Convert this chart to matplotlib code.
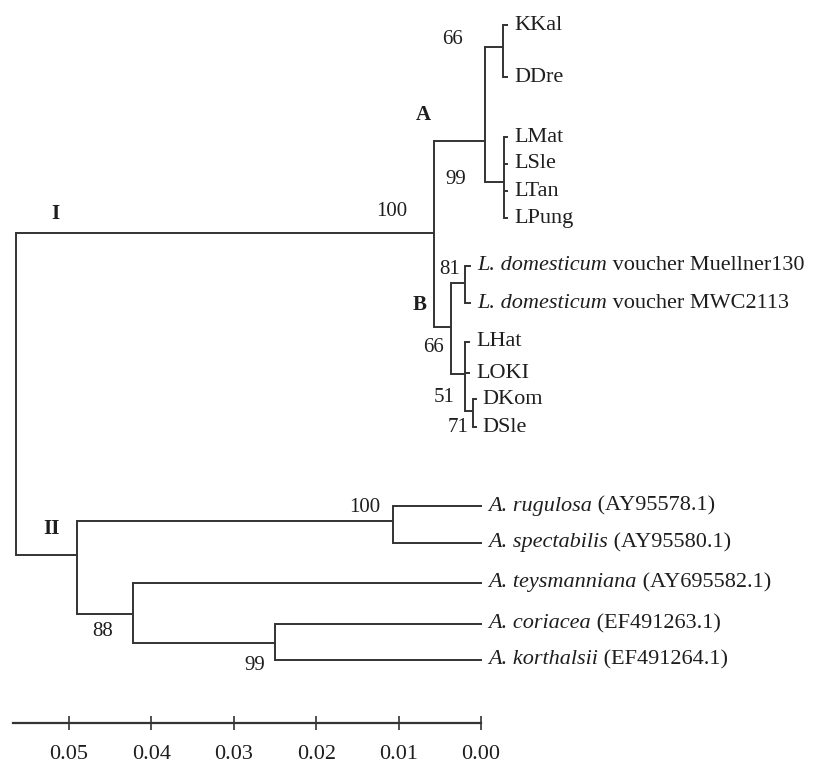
import matplotlib
matplotlib.use('Agg')
import matplotlib.pyplot as plt

# ---------------- data ----------------
leaf_ids = ['KKal', 'DDre', 'LMat', 'LSle', 'LTan', 'LPung', 'Lm130', 'Lmwc',
            'LHat', 'LOKI', 'DKom', 'DSle', 'Arug', 'Aspe', 'Atey', 'Acor', 'Akor']
leaf_italic = ['', '', '', '', '', '', 'L. domesticum', 'L. domesticum',
               '', '', '', '', 'A. rugulosa', 'A. spectabilis', 'A. teysmanniana',
               'A. coriacea', 'A. korthalsii']
leaf_plain = ['KKal', 'DDre', 'LMat', 'LSle', 'LTan', 'LPung', ' voucher Muellner130',
              ' voucher MWC2113', 'LHat', 'LOKI', 'DKom', 'DSle', ' (AY95578.1)',
              ' (AY95580.1)', ' (AY695582.1)', ' (EF491263.1)', ' (EF491264.1)']
# cumulative branch length from the root
leaf_depth = [0.0597, 0.0597, 0.0597, 0.0597, 0.0597, 0.0597, 0.0552, 0.0552,
              0.0551, 0.0551, 0.0559, 0.0559, 0.0566, 0.0566, 0.0566, 0.0566, 0.0566]

node_ids = ['root', 'I', 'A', 'A1', 'A2', 'B', 'B1', 'B2', 'B3', 'II', 'II1', 'II2', 'II3']
node_depth = [0.0, 0.0507, 0.0569, 0.0591, 0.0592, 0.0528, 0.0545, 0.0545, 0.0555,
              0.0074, 0.0458, 0.0142, 0.0314]
node_children = [['I', 'II'], ['A', 'B'], ['A1', 'A2'], ['KKal', 'DDre'],
                 ['LMat', 'LSle', 'LTan', 'LPung'], ['B1', 'B2'], ['Lm130', 'Lmwc'],
                 ['LHat', 'LOKI', 'B3'], ['DKom', 'DSle'], ['II1', 'II2'],
                 ['Arug', 'Aspe'], ['Atey', 'II3'], ['Acor', 'Akor']]
boot_nodes = ['A1', 'A2', 'I', 'B1', 'B', 'B2', 'B3', 'II1', 'II2', 'II3']
boot_values = [66, 99, 100, 81, 66, 51, 71, 100, 88, 99]

clade_names = ['I', 'II', 'A', 'B']

scale_ticks = [0.05, 0.04, 0.03, 0.02, 0.01, 0.00]
scale_labels = ['0.05', '0.04', '0.03', '0.02', '0.01', '0.00']

# ---------------- layout (pixel rows) ----------------
W, H = 814, 766
PX_PER_UNIT = 8240.0
ROOT_PX = 16
row = {'KKal': 25, 'DDre': 77, 'LMat': 137, 'LSle': 164, 'LTan': 191, 'LPung': 218,
       'Lm130': 266, 'Lmwc': 303, 'LHat': 342, 'LOKI': 373, 'DKom': 399, 'DSle': 427,
       'Arug': 506, 'Aspe': 543, 'Atey': 583, 'Acor': 624, 'Akor': 660,
       'root': 400, 'I': 233, 'A': 141, 'A1': 47, 'A2': 182, 'B': 327, 'B1': 283,
       'B2': 374, 'B3': 411, 'II': 555, 'II1': 521, 'II2': 614, 'II3': 643}
boot_offset = {'A1': (-50, -7), 'A2': (-48, -2), 'I': (-42, -21), 'B1': (-15, -14),
               'B': (-18, 21), 'B2': (-21, 23), 'B3': (-15, 16), 'II1': (-29, -14),
               'II2': (-30, 18), 'II3': (-20, 22)}
clade_pos = {'I': (55, 214), 'II': (52, 529), 'A': (423, 115), 'B': (420, 305)}

LINE = '#333333'
TEXT = '#1e1e1e'
SERIF = ['Liberation Serif', 'DejaVu Serif']
FS_LEAF = 16
FS_BOOT = 15
FS_SCALE = 16

depth = dict(zip(leaf_ids, leaf_depth))
depth.update(dict(zip(node_ids, node_depth)))
children = dict(zip(node_ids, node_children))


def px_to_depth(px):
    return (px - ROOT_PX) / PX_PER_UNIT


fig = plt.figure(figsize=(W / 100, H / 100), dpi=100)
fig.patch.set_facecolor('white')
ax = fig.add_axes([0, 0, 1, 1])
ax.set_xlim(px_to_depth(0), px_to_depth(W))
ax.set_ylim(H, 0)
ax.axis('off')

lw = 1.4
for nid in node_ids:
    d = depth[nid]
    ys = [row[c] for c in children[nid]]
    ax.plot([d, d], [min(ys), max(ys)], color=LINE, lw=lw, solid_capstyle='projecting')
    for c in children[nid]:
        ax.plot([d, depth[c]], [row[c], row[c]], color=LINE, lw=lw,
                solid_capstyle='butt')

# leaf labels
gap = 6 / PX_PER_UNIT
for lid, it, pl in zip(leaf_ids, leaf_italic, leaf_plain):
    x = depth[lid] + gap
    y = row[lid]
    if it:
        t1 = ax.text(x, y, it, fontsize=FS_LEAF, family=SERIF, style='italic',
                     color=TEXT, ha='left', va='center')
        ax.annotate(pl, xy=(1, 0), xycoords=t1, ha='left', va='bottom',
                    fontsize=FS_LEAF, family=SERIF, color=TEXT)
    else:
        ax.text(x, y, pl, fontsize=FS_LEAF, family=SERIF, color=TEXT,
                ha='left', va='center')

# bootstrap values
for nid, val in zip(boot_nodes, boot_values):
    ox, oy = boot_offset[nid]
    x = depth[nid] + ox / PX_PER_UNIT
    y = row[nid] + oy
    ax.text(x, y, str(val), fontsize=FS_BOOT, family=SERIF, color=TEXT,
            ha='center', va='center')

# clade labels
for name in clade_names:
    px, py = clade_pos[name]
    ax.text(px_to_depth(px), py, name, fontsize=FS_BOOT, family=SERIF,
            fontweight='bold', color=TEXT, ha='center', va='center')

# scale bar
left_px, right_px, bar_y = 13, 481, 723
sax = fig.add_axes([left_px / W, (H - bar_y) / H, (right_px - left_px) / W, 1e-4])
sax.set_xlim((right_px - left_px) / PX_PER_UNIT, 0.0)
for s in ['top', 'left', 'right']:
    sax.spines[s].set_visible(False)
sax.spines['bottom'].set_color(LINE)
sax.spines['bottom'].set_linewidth(1.6)
sax.set_yticks([])
sax.set_xticks(scale_ticks)
sax.set_xticklabels(scale_labels, fontsize=FS_SCALE, family=SERIF, color=TEXT)
sax.tick_params(axis='x', direction='inout', length=10, width=1.2,
                color=LINE, pad=11)
sax.patch.set_alpha(0)

fig.savefig('out.png', dpi=100, facecolor='white')
